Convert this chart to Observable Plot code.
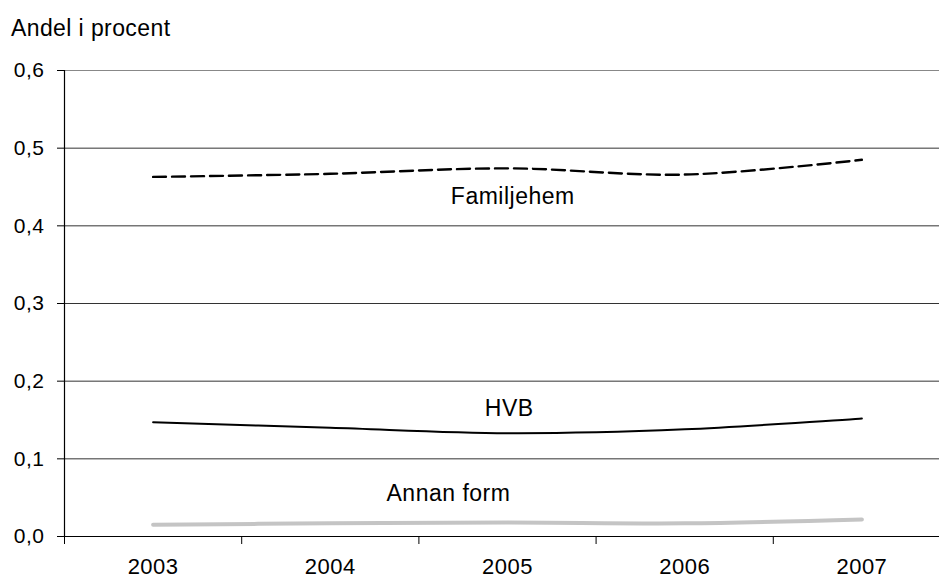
<!DOCTYPE html>
<html>
<head>
<meta charset="utf-8">
<script src="https://cdn.jsdelivr.net/npm/d3@7"></script>
<script src="https://cdn.jsdelivr.net/npm/@observablehq/plot@0.6"></script>
<style>
  body { margin: 0; background: #fff; font-family: "Liberation Sans", Arial, sans-serif; }
  #title { height: 50px; box-sizing: border-box; padding: 17px 0 0 11px; font-size: 23px; line-height: 23px; color: #000; letter-spacing: 0.4px; }
  #chart svg { display: block; }
  #chart svg text { letter-spacing: 0.5px; }
</style>
</head>
<body>
<div id="title">Andel i procent</div>
<div id="chart"></div>
<script>
const years = [2003, 2004, 2005, 2006, 2007];
const familjehem = [0.463, 0.467, 0.474, 0.466, 0.485];
const hvb = [0.147, 0.140, 0.133, 0.138, 0.152];
const annanForm = [0.015, 0.017, 0.018, 0.017, 0.022];
const yTicks = [0, 0.1, 0.2, 0.3, 0.4, 0.5, 0.6];
const seriesNames = ["Familjehem", "HVB", "Annan form"];

const toRows = (vals) => years.map((yr, i) => ({year: yr, value: vals[i]}));
const fam = toRows(familjehem), hv = toRows(hvb), an = toRows(annanForm);

// annotation anchors (data space)
const notes = [
  {name: seriesNames[0], year: 2005.03, value: 0.437},
  {name: seriesNames[1], year: 2005.01, value: 0.165},
  {name: seriesNames[2], year: 2004.667, value: 0.055}
];

const boundaries = years.slice(0, 4).map(y => y + 0.5).concat([2002.5]);
const fmt = d => d3.format(".1f")(d).replace(".", ",");

const chart = Plot.plot({
  width: 939,
  height: 531,
  marginTop: 20,
  marginBottom: 45,
  marginLeft: 64,
  marginRight: 0,
  style: {fontFamily: "'Liberation Sans', Arial, sans-serif", color: "#000", background: "#fff"},
  x: {domain: [2002.5, 2007.438]},
  y: {domain: [0, 0.6]},
  marks: [
    Plot.ruleY(yTicks.filter(d => d > 0 && d < 0.6), {stroke: "#333", strokeWidth: 1}),
    Plot.ruleY([0.6], {stroke: "#888", strokeWidth: 1}),
    Plot.ruleY([0], {stroke: "#000", strokeWidth: 1.2}),
    Plot.ruleX([2002.5], {y1: 0, y2: 0.6, stroke: "#000", strokeWidth: 1.2}),
    Plot.axisY({ticks: yTicks, tickFormat: fmt, tickSize: 7, tickPadding: 13, fontSize: 21, label: null, stroke: "#000"}),
    Plot.axisX({ticks: boundaries, tickFormat: () => "", tickSize: 8, label: null, stroke: "#000"}),
    Plot.axisX({ticks: years, tickFormat: d => String(d), tickSize: 0, tickPadding: 22, fontSize: 22, label: null}),
    Plot.line(an, {x: "year", y: "value", stroke: "#c4c4c4", strokeWidth: 4, curve: "catmull-rom", strokeLinecap: "round"}),
    Plot.line(hv, {x: "year", y: "value", stroke: "#000", strokeWidth: 2, curve: "catmull-rom"}),
    Plot.line(fam, {x: "year", y: "value", stroke: "#000", strokeWidth: 2.4, strokeDasharray: "13,6", curve: "catmull-rom"}),
    Plot.text(notes, {x: "year", y: "value", text: "name", fontSize: 23, fill: "#000"})
  ]
});
document.getElementById("chart").appendChild(chart);
</script>
</body>
</html>
